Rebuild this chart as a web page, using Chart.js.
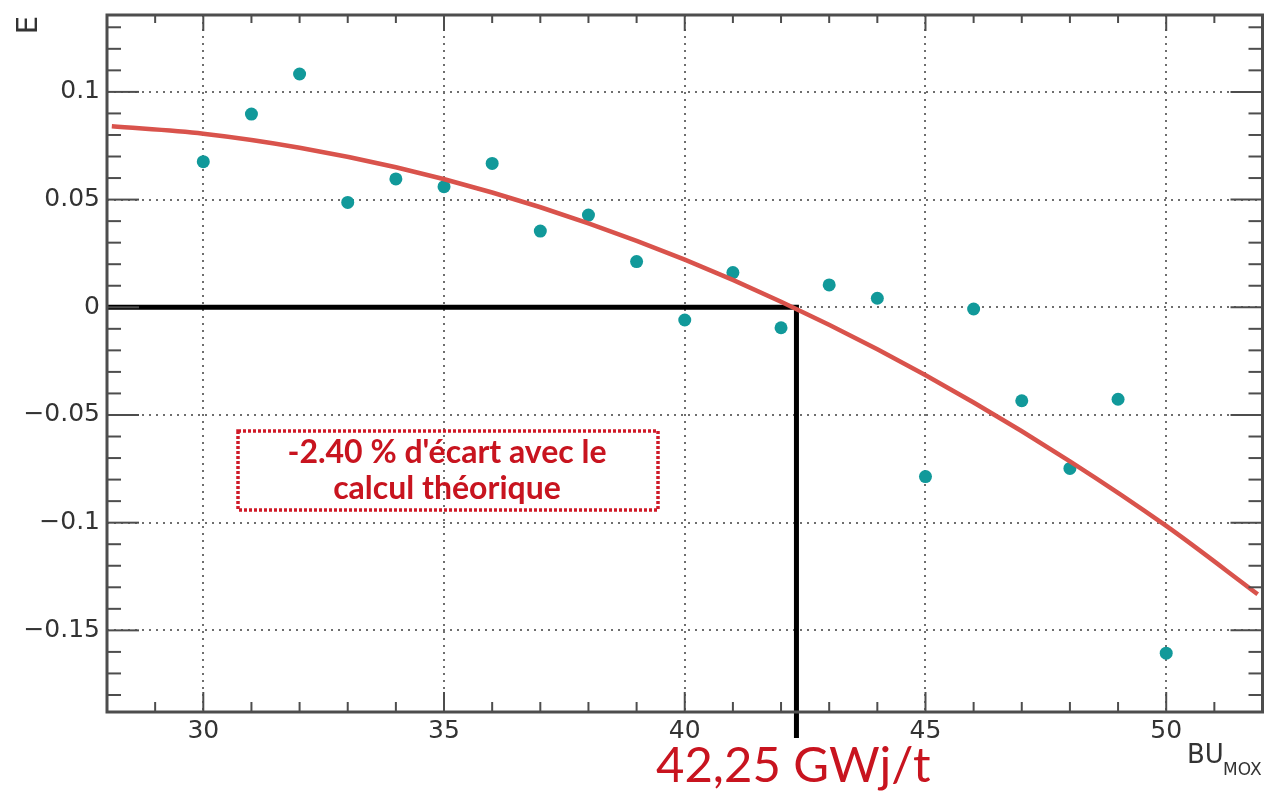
<!DOCTYPE html>
<html><head><meta charset="utf-8">
<style>html,body{margin:0;padding:0;background:#fff}#wrap{width:1269px;height:791px;position:relative}</style>
<script src="https://cdn.jsdelivr.net/npm/chart.js@4.4.1/dist/chart.umd.min.js"></script>
</head><body><div id="wrap"><canvas id="c"></canvas></div>
<script>
// ---- data ----
const buValues = [30,31,32,33,34,35,36,37,38,39,40,41,42,43,44,45,46,47,48,49,50];
const eValues  = [0.0676,0.0897,0.1083,0.0487,0.0596,0.0560,0.0668,0.0354,0.0428,0.0212,-0.0059,0.0161,-0.0095,0.0104,0.0042,-0.0786,-0.0008,-0.0434,-0.0748,-0.0427,-0.1606];
const fitX = [28.1,30,32,34,36,38,40,42,44,46,48,50,51.9];
const fitE = [0.0840,0.0806,0.0741,0.0650,0.0533,0.0390,0.0221,0.0026,-0.0195,-0.0442,-0.0715,-0.1015,-0.1332];
const crossX = [28, 42.32, 42.32];
const crossE = [0, 0, -0.2];
const xTickValues = [30,35,40,45,50];
const xTickLabels = ['30','35','40','45','50'];
const yTickValues = [0.1,0.05,0,-0.05,-0.1,-0.15];
const yTickLabels = ['0.1','0.05','0','\u22120.05','\u22120.1','\u22120.15'];
const xMin = 28, xMax = 52, yMin = -0.1879, yMax = 0.1357;
const annotationLines = ["-2.40 % d'\u00e9cart avec le", "calcul th\u00e9orique"];
const resultLabel = '42,25 GWj/t';

const toXY = (xs, ys) => xs.map((v,i)=>({x:v, y:ys[i]}));

const deco = {
  id: 'deco',
  beforeDatasetsDraw(chart){
    const {ctx, chartArea:a, scales:{x,y}} = chart;
    ctx.save();
    ctx.strokeStyle = '#6e6e6e'; ctx.lineWidth = 2; ctx.setLineDash([2,5]);
    xTickValues.forEach(v=>{const p=Math.round(x.getPixelForValue(v)); ctx.beginPath(); ctx.moveTo(p,a.top); ctx.lineTo(p,a.bottom); ctx.stroke();});
    yTickValues.forEach(v=>{const p=Math.round(y.getPixelForValue(v)); ctx.beginPath(); ctx.moveTo(a.left,p); ctx.lineTo(a.right,p); ctx.stroke();});
    ctx.restore();
  },
  afterDatasetsDraw(chart){
    const {ctx, chartArea:a, scales:{x,y}} = chart;
    ctx.save();
    // frame
    ctx.strokeStyle = '#4d4d4d'; ctx.lineWidth = 3; ctx.setLineDash([]);
    ctx.strokeRect(a.left, a.top, a.right-a.left, a.bottom-a.top);
    // inward ticks
    ctx.lineWidth = 2;
    for (let v = 29; v <= 51; v++) {
      const p = x.getPixelForValue(v), major = v % 5 === 0;
      ctx.beginPath(); ctx.moveTo(p, a.bottom); ctx.lineTo(p, a.bottom - (major?20:10)); ctx.stroke();
      ctx.beginPath(); ctx.moveTo(p, a.top); ctx.lineTo(p, a.top + (major?16:8)); ctx.stroke();
    }
    for (let k = -18; k <= 13; k++) {
      const v = k/100, p = y.getPixelForValue(v), major = k % 5 === 0;
      ctx.beginPath(); ctx.moveTo(a.left, p); ctx.lineTo(a.left + (major?32:14), p); ctx.stroke();
      ctx.beginPath(); ctx.moveTo(a.right, p); ctx.lineTo(a.right - (major?32:14), p); ctx.stroke();
    }
    // axis titles
    ctx.fillStyle = '#333';
    ctx.save(); ctx.translate(37, 25); ctx.rotate(-Math.PI/2);
    ctx.font = '29px "DejaVu Sans"'; ctx.textAlign = 'center'; ctx.textBaseline = 'alphabetic';
    ctx.fillText('E', 0, 0); ctx.restore();
    ctx.textAlign = 'left'; ctx.textBaseline = 'alphabetic';
    ctx.font = '26px "DejaVu Sans"'; ctx.fillText('BU', 1187, 763);
    ctx.font = '17px "DejaVu Sans"'; ctx.fillText('MOX', 1223, 775);
    // annotation box
    ctx.strokeStyle = '#d01a28'; ctx.lineWidth = 3.5; ctx.setLineDash([3,2]);
    ctx.strokeRect(238, 431, 420, 79);
    ctx.setLineDash([]);
    ctx.fillStyle = '#c8141f'; ctx.textAlign = 'center';
    ctx.font = 'bold 32px Lato';
    ctx.fillText(annotationLines[0], 447, 463);
    ctx.fillText(annotationLines[1], 447, 499);
    ctx.textAlign = 'left';
    ctx.font = '49px Lato';
    ctx.fillText(resultLabel, 656, 782);
    ctx.restore();
  }
};

const noPad = (s) => { s.paddingTop = 0; s.paddingBottom = 0; s.paddingLeft = 0; s.paddingRight = 0; };

new Chart(document.getElementById('c'), {
  type: 'scatter',
  data: {
    datasets: [
      { label:'fit', type:'line', data: toXY(fitX, fitE), borderColor:'#d9534c', borderWidth:4.5,
        pointRadius:0, cubicInterpolationMode:'monotone', fill:false, order:1 },
      { label:'E', data: toXY(buValues, eValues), backgroundColor:'#11999a', borderColor:'#11999a',
        pointRadius:6.5, pointBorderWidth:0, order:2 },
      { label:'cross', type:'line', data: toXY(crossX, crossE), borderColor:'#000', borderWidth:5,
        pointRadius:0, tension:0, fill:false, clip:false, borderJoinStyle:'miter', order:3 }
    ]
  },
  options: {
    responsive:true, maintainAspectRatio:false, animation:false,
    layout:{ padding:{ top:15, right:4, left:0, bottom:0 } },
    plugins:{ legend:{display:false}, tooltip:{enabled:false} },
    scales:{
      x:{ type:'linear', position:'bottom', min:xMin, max:xMax,
          grid:{display:false, drawTicks:false}, border:{display:false},
          afterBuildTicks:(s)=>{ s.ticks = xTickValues.map(v=>({value:v})); },
          afterFit:(s)=>{ s.height = 79; noPad(s); },
          ticks:{ autoSkip:false, maxRotation:0, padding:4, color:'#333',
                  font:{family:'"DejaVu Sans"', size:25},
                  callback:(v)=>xTickLabels[xTickValues.indexOf(v)] } },
      y:{ type:'linear', position:'left', min:yMin, max:yMax,
          grid:{display:false, drawTicks:false}, border:{display:false},
          afterBuildTicks:(s)=>{ s.ticks = yTickValues.map(v=>({value:v})); },
          afterFit:(s)=>{ s.width = 107; noPad(s); },
          ticks:{ autoSkip:false, padding:7, color:'#333',
                  font:{family:'"DejaVu Sans"', size:25},
                  callback:(v)=>yTickLabels[yTickValues.indexOf(v)] } }
    }
  },
  plugins:[deco]
});
</script></body></html>
